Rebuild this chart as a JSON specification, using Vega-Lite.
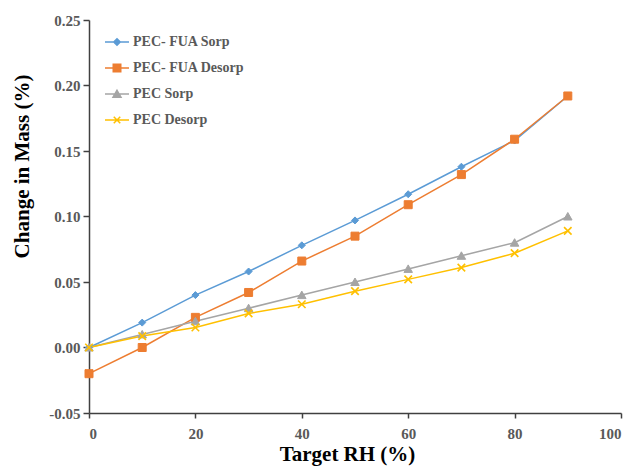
{
  "$schema": "https://vega.github.io/schema/vega-lite/v6.json",
  "width": 532,
  "height": 393,
  "autosize": "none",
  "padding": {"left": 89, "top": 20, "right": 12, "bottom": 53},
  "background": "white",
  "config": {
    "view": {"stroke": null},
    "font": "Times New Roman, Liberation Serif, serif"
  },
  "data": {
    "values": [
      {"rh": 0, "mass": 0.0, "series": "PEC- FUA Sorp"},
      {"rh": 10, "mass": 0.019, "series": "PEC- FUA Sorp"},
      {"rh": 20, "mass": 0.040, "series": "PEC- FUA Sorp"},
      {"rh": 30, "mass": 0.058, "series": "PEC- FUA Sorp"},
      {"rh": 40, "mass": 0.078, "series": "PEC- FUA Sorp"},
      {"rh": 50, "mass": 0.097, "series": "PEC- FUA Sorp"},
      {"rh": 60, "mass": 0.117, "series": "PEC- FUA Sorp"},
      {"rh": 70, "mass": 0.138, "series": "PEC- FUA Sorp"},
      {"rh": 80, "mass": 0.158, "series": "PEC- FUA Sorp"},
      {"rh": 90, "mass": 0.192, "series": "PEC- FUA Sorp"},
      {"rh": 0, "mass": -0.020, "series": "PEC- FUA Desorp"},
      {"rh": 10, "mass": 0.0, "series": "PEC- FUA Desorp"},
      {"rh": 20, "mass": 0.023, "series": "PEC- FUA Desorp"},
      {"rh": 30, "mass": 0.042, "series": "PEC- FUA Desorp"},
      {"rh": 40, "mass": 0.066, "series": "PEC- FUA Desorp"},
      {"rh": 50, "mass": 0.085, "series": "PEC- FUA Desorp"},
      {"rh": 60, "mass": 0.109, "series": "PEC- FUA Desorp"},
      {"rh": 70, "mass": 0.132, "series": "PEC- FUA Desorp"},
      {"rh": 80, "mass": 0.159, "series": "PEC- FUA Desorp"},
      {"rh": 90, "mass": 0.192, "series": "PEC- FUA Desorp"},
      {"rh": 0, "mass": 0.0, "series": "PEC Sorp"},
      {"rh": 10, "mass": 0.010, "series": "PEC Sorp"},
      {"rh": 20, "mass": 0.020, "series": "PEC Sorp"},
      {"rh": 30, "mass": 0.030, "series": "PEC Sorp"},
      {"rh": 40, "mass": 0.040, "series": "PEC Sorp"},
      {"rh": 50, "mass": 0.050, "series": "PEC Sorp"},
      {"rh": 60, "mass": 0.060, "series": "PEC Sorp"},
      {"rh": 70, "mass": 0.070, "series": "PEC Sorp"},
      {"rh": 80, "mass": 0.080, "series": "PEC Sorp"},
      {"rh": 90, "mass": 0.100, "series": "PEC Sorp"},
      {"rh": 0, "mass": 0.0, "series": "PEC Desorp"},
      {"rh": 10, "mass": 0.0087, "series": "PEC Desorp"},
      {"rh": 20, "mass": 0.0153, "series": "PEC Desorp"},
      {"rh": 30, "mass": 0.026, "series": "PEC Desorp"},
      {"rh": 40, "mass": 0.033, "series": "PEC Desorp"},
      {"rh": 50, "mass": 0.043, "series": "PEC Desorp"},
      {"rh": 60, "mass": 0.052, "series": "PEC Desorp"},
      {"rh": 70, "mass": 0.061, "series": "PEC Desorp"},
      {"rh": 80, "mass": 0.072, "series": "PEC Desorp"},
      {"rh": 90, "mass": 0.089, "series": "PEC Desorp"}
    ]
  },
  "encoding": {
    "x": {
      "field": "rh", "type": "quantitative",
      "scale": {"domain": [0, 100], "nice": false, "zero": false},
      "axis": {
        "title": "Target RH (%)",
        "values": [0, 20, 40, 60, 80, 100],
        "grid": false,
        "domainColor": "#404040", "domainWidth": 1.5,
        "tickColor": "#404040", "tickWidth": 1.5, "tickSize": 5,
        "labelFont": "Times New Roman, Liberation Serif, serif", "labelFontWeight": "bold", "labelFontSize": 15, "labelColor": "#595959",
        "labelPadding": 8,
        "titleFont": "Times New Roman, Liberation Serif, serif", "titleFontWeight": "bold", "titleFontSize": 21, "titleColor": "#000000",
        "titleBaseline": "alphabetic", "titleAlign": "center", "titleX": 258, "titleY": 47
      }
    },
    "y": {
      "field": "mass", "type": "quantitative",
      "scale": {"domain": [-0.05, 0.25], "nice": false, "zero": false},
      "axis": {
        "title": "Change in Mass (%)",
        "values": [-0.05, 0, 0.05, 0.1, 0.15, 0.2, 0.25],
        "format": ".2f",
        "labelExpr": "replace(datum.label, '\u2212', '-')",
        "grid": false,
        "domainColor": "#404040", "domainWidth": 1.5,
        "tickColor": "#404040", "tickWidth": 1.5, "tickSize": 6,
        "labelFont": "Times New Roman, Liberation Serif, serif", "labelFontWeight": "bold", "labelFontSize": 15, "labelColor": "#595959",
        "labelPadding": 3,
        "titleFont": "Times New Roman, Liberation Serif, serif", "titleFontWeight": "bold", "titleFontSize": 21, "titleColor": "#000000",
        "titleAngle": -90, "titleBaseline": "middle", "titleAlign": "center", "titleX": -67, "titleY": 146
      }
    },
    "color": {
      "field": "series", "type": "nominal",
      "scale": {
        "domain": ["PEC- FUA Sorp", "PEC- FUA Desorp", "PEC Sorp", "PEC Desorp"],
        "range": ["#5B9BD5", "#ED7D31", "#A5A5A5", "#FFC000"]
      },
      "legend": {
        "title": null,
        "orient": "none",
        "legendX": 21,
        "legendY": 15,
        "padding": 0,
        "symbolSize": 100,
        "labelOffset": 9,
        "rowPadding": 12,
        "labelFont": "Times New Roman, Liberation Serif, serif", "labelFontWeight": "bold", "labelFontSize": 14, "labelColor": "#595959",
        "encode": {
          "symbols": {
            "update": {
              "shape": {"signal": "datum.value === 'PEC- FUA Sorp' ? 'M-2.4,0L2.4,0M0,-0.65L0.65,0L0,0.65L-0.65,0Z' : datum.value === 'PEC- FUA Desorp' ? 'M-2.4,0L2.4,0M-0.75,-0.75L0.75,-0.75L0.75,0.75L-0.75,0.75Z' : datum.value === 'PEC Sorp' ? 'M-2.4,0L2.4,0M0,-0.75L0.8,0.65L-0.8,0.65Z' : 'M-2.4,0L2.4,0M-0.65,-0.65L0.65,0.65M0.65,-0.65L-0.65,0.65'"},
              "fill": {"signal": "scale('color', datum.value)"},
              "stroke": {"signal": "scale('color', datum.value)"},
              "strokeWidth": {"value": 1.5},
              "opacity": {"value": 1}
            }
          }
        }
      }
    }
  },
  "layer": [
    {
      "mark": {"type": "line", "strokeWidth": 1.5}
    },
    {
      "transform": [{"filter": "datum.series === 'PEC- FUA Sorp'"}],
      "mark": {"type": "point", "filled": true, "size": 100, "opacity": 1, "shape": "M0,-0.7L0.7,0L0,0.7L-0.7,0Z", "stroke": "#5B9BD5", "strokeWidth": 1}
    },
    {
      "transform": [{"filter": "datum.series === 'PEC- FUA Desorp'"}],
      "mark": {"type": "point", "filled": true, "size": 100, "opacity": 1, "shape": "M-0.8,-0.8L0.8,-0.8L0.8,0.8L-0.8,0.8Z", "stroke": "#ED7D31", "strokeWidth": 1}
    },
    {
      "transform": [{"filter": "datum.series === 'PEC Sorp'"}],
      "mark": {"type": "point", "filled": true, "size": 100, "opacity": 1, "shape": "M0,-0.8L0.85,0.7L-0.85,0.7Z", "stroke": "#A5A5A5", "strokeWidth": 1}
    },
    {
      "transform": [{"filter": "datum.series === 'PEC Desorp'"}],
      "mark": {"type": "point", "filled": true, "size": 100, "opacity": 1, "shape": "M-0.75,-0.75L0.75,0.75M0.75,-0.75L-0.75,0.75", "stroke": "#FFC000", "strokeWidth": 1.6}
    }
  ]
}
